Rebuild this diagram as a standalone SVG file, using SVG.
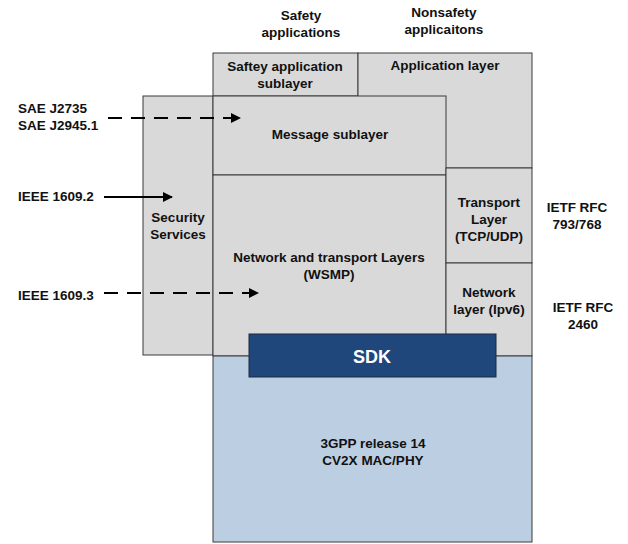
<svg xmlns="http://www.w3.org/2000/svg" width="628" height="544" viewBox="0 0 628 544">
  <style>
    .box { fill: #d9d9d9; stroke: #3a3a3a; stroke-width: 1; }
    .phy { fill: #bccfe2; stroke: #3a3a3a; stroke-width: 1; }
    .sdk { fill: #1f477b; stroke: #1a2a40; stroke-width: 1; }
    text { font-family: "Liberation Sans", Arial, sans-serif; font-weight: bold; font-size: 13.5px; fill: #111; }
    .c { text-anchor: middle; }
    .sdkt { fill: #ffffff; font-size: 18px; }
    .arrow { stroke: #000; stroke-width: 2; fill: none; }
    .dash { stroke-dasharray: 14 9; }
  </style>
  <defs>
    <marker id="head" viewBox="0 0 10 10" refX="9" refY="5" markerWidth="5" markerHeight="5" orient="auto" markerUnits="strokeWidth">
      <path d="M0,0 L10,5 L0,10 z" fill="#000"/>
    </marker>
  </defs>

  <!-- column headings -->
  <g id="hdr-safety">
    <text class="c" x="301" y="20">Safety</text>
    <text class="c" x="301" y="37">applications</text>
  </g>
  <g id="hdr-nonsafety">
    <text class="c" x="444" y="17">Nonsafety</text>
    <text class="c" x="444" y="34">applicaitons</text>
  </g>

  <g id="security">
    <rect class="box" x="143" y="96" width="70" height="259"/>
    <text class="c" x="178" y="222">Security</text>
    <text class="c" x="178" y="239">Services</text>
  </g>

  <g id="safety-sublayer">
    <rect class="box" x="213" y="53" width="145" height="43"/>
    <text class="c" x="285" y="71">Saftey application</text>
    <text class="c" x="285" y="88">sublayer</text>
  </g>

  <g id="application-layer">
    <rect class="box" x="358" y="53" width="174" height="115"/>
    <text class="c" x="445" y="70">Application layer</text>
  </g>

  <g id="message-sublayer">
    <rect class="box" x="213" y="96" width="233" height="79"/>
    <text class="c" x="330" y="139">Message sublayer</text>
  </g>

  <g id="wsmp">
    <rect class="box" x="213" y="175" width="233" height="181"/>
    <text class="c" x="329" y="262">Network and transport Layers</text>
    <text class="c" x="329" y="279">(WSMP)</text>
  </g>

  <g id="transport-layer">
    <rect class="box" x="446" y="168" width="86" height="95"/>
    <text class="c" x="489" y="207">Transport</text>
    <text class="c" x="489" y="224">Layer</text>
    <text class="c" x="489" y="241">(TCP/UDP)</text>
  </g>

  <g id="network-layer">
    <rect class="box" x="446" y="263" width="86" height="93"/>
    <text class="c" x="489" y="297">Network</text>
    <text class="c" x="489" y="314">layer (Ipv6)</text>
  </g>

  <g id="mac-phy">
    <rect class="phy" x="213" y="356" width="319" height="186"/>
    <text class="c" x="373" y="448">3GPP release 14</text>
    <text class="c" x="373" y="465">CV2X MAC/PHY</text>
  </g>

  <g id="sdk">
    <rect class="sdk" x="249" y="334" width="247" height="43"/>
    <text class="c sdkt" x="372" y="363">SDK</text>
  </g>

  <!-- standards references -->
  <g id="ref-sae">
    <text x="18" y="113">SAE J2735</text>
    <text x="18" y="130">SAE J2945.1</text>
  </g>
  <g id="ref-16092">
    <text x="18" y="201">IEEE 1609.2</text>
  </g>
  <g id="ref-16093">
    <text x="18" y="300">IEEE 1609.3</text>
  </g>
  <g id="ref-rfc793">
    <text class="c" x="577" y="212">IETF RFC</text>
    <text class="c" x="577" y="229">793/768</text>
  </g>
  <g id="ref-rfc2460">
    <text class="c" x="583" y="312">IETF RFC</text>
    <text class="c" x="583" y="329">2460</text>
  </g>

  <g id="connectors">
    <line class="arrow dash" x1="108" y1="118" x2="240" y2="118" marker-end="url(#head)"/>
    <line class="arrow" x1="104" y1="197" x2="172" y2="197" marker-end="url(#head)"/>
    <line class="arrow dash" x1="104" y1="293" x2="258" y2="293" marker-end="url(#head)"/>
  </g>
</svg>
